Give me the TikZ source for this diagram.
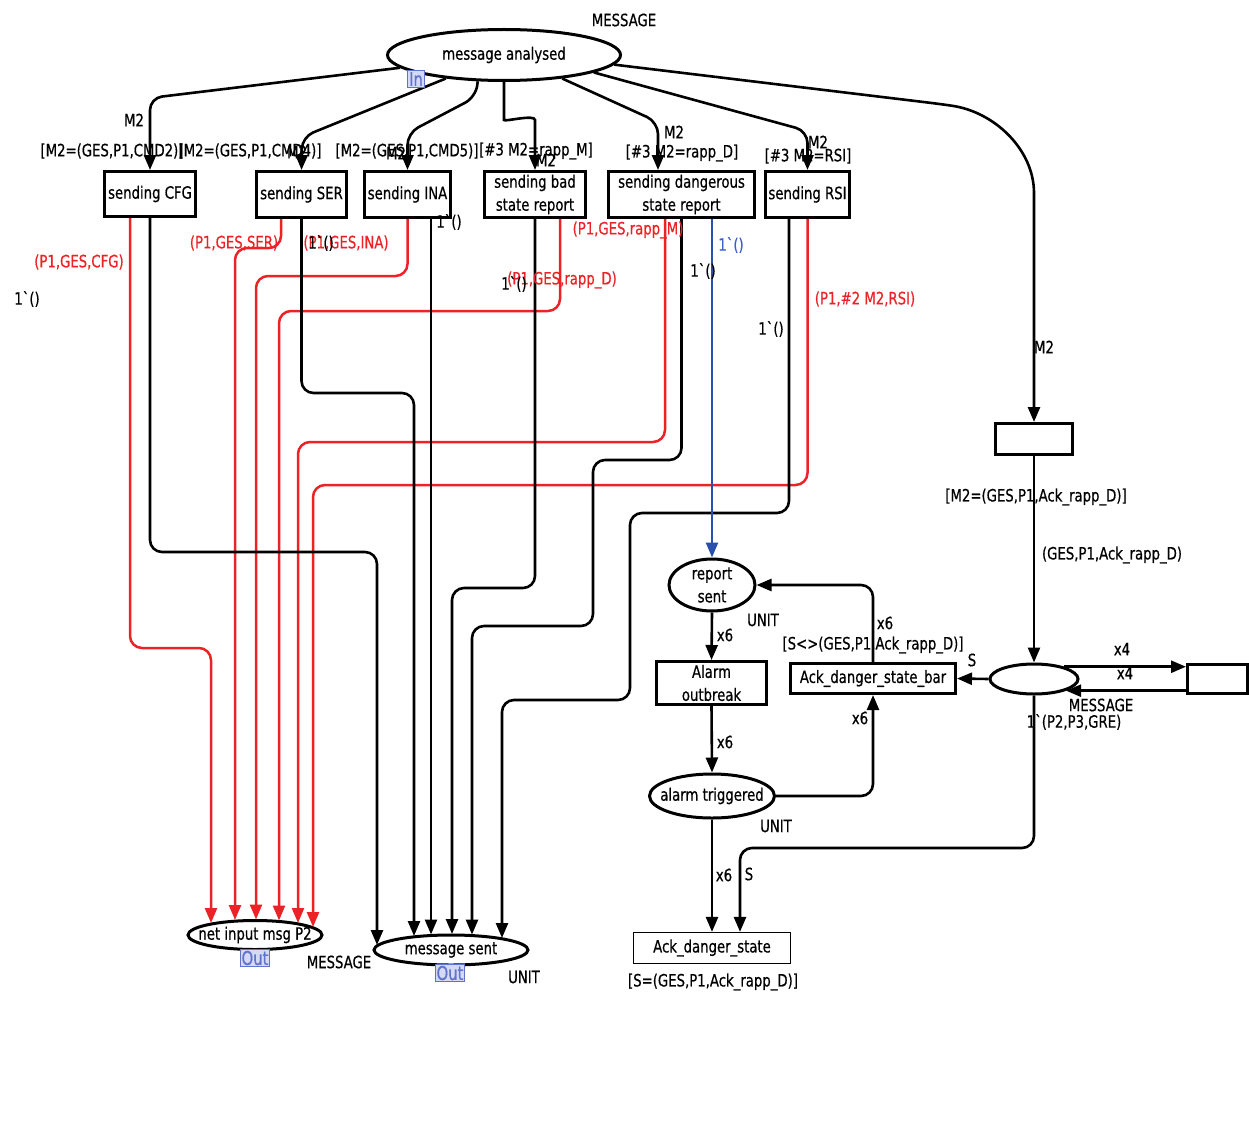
\documentclass[tikz,border=0pt]{standalone}
\usepackage{fontspec}
\newfontfamily\lab{DejaVu Sans}[FakeStretch=0.78,FakeBold=0.6]
\usetikzlibrary{shapes.geometric,arrows.meta,calc}
\definecolor{rd}{RGB}{236,34,38}
\definecolor{bl}{RGB}{40,80,172}
\definecolor{blt}{RGB}{60,95,205}
\definecolor{tagf}{RGB}{212,217,246}
\definecolor{tagb}{RGB}{95,115,205}
\begin{document}
\begin{tikzpicture}[x=1pt,y=-1pt,
  every node/.style={font=\lab\fontsize{17}{23}\selectfont, inner sep=0pt},
  place/.style={ellipse, draw, line width=3pt, align=center},
  trans/.style={rectangle, draw, line width=3pt, align=center},
  arc/.style={line width=2.6pt, -{Triangle[length=15pt,width=12pt]}, rounded corners=12pt},
  rarc/.style={arc, draw=rd, line width=2.5pt, -{Triangle[length=15pt,width=12pt,fill=rd]}},
  barc/.style={arc, draw=bl, line width=2.5pt, -{Triangle[length=15pt,width=12pt,fill=bl]}},
  lbl/.style={text=black},
  rlbl/.style={text=rd},
  blbl/.style={text=blt},
  tag/.style={draw=tagb, fill=tagf, text=tagb, line width=1pt, inner sep=1.5pt, font=\lab\fontsize{19}{20}\selectfont}
]
\useasboundingbox (0,0) rectangle (1249,1145);

% places (ellipses drawn empty, texts set on top)
\node[place, minimum width=233, minimum height=51] (ma) at (504,55) {};
\node (mat) at (ma.center) {message analysed};
\node[place, minimum width=86, minimum height=52] (rs) at (712,585) {};
\node[align=center] (rst) at (rs.center) {report\\sent};
\node[place, minimum width=125, minimum height=44] (at) at (712,796) {};
\node (att) at (at.center) {alarm triggered};
\node[place, minimum width=134, minimum height=29] (ni) at (255,935) {};
\node (nit) at (ni.center) {net input msg P2};
\node[place, minimum width=154, minimum height=30] (ms) at (451,950) {};
\node (mst) at (ms.center) {message sent};
\node[place, minimum width=88, minimum height=30] (rp) at (1034,679) {};

% transitions
\node[trans, minimum width=91, minimum height=45] (cfg) at (150,194) {sending CFG};
\node[trans, minimum width=90, minimum height=46] (ser) at (301.5,194.5) {sending SER};
\node[trans, minimum width=86, minimum height=46] (ina) at (407.5,194.5) {sending INA};
\node[trans, minimum width=101, minimum height=46] (bsr) at (535,194.5) {sending bad\\state report};
\node[trans, minimum width=146, minimum height=46] (dsr) at (681.5,194.5) {sending dangerous\\state report};
\node[trans, minimum width=84, minimum height=46] (rsi) at (807.5,194.5) {sending RSI};
\node[trans, minimum width=77, minimum height=31] (rr) at (1034,439) {};
\node[trans, minimum width=110, minimum height=43] (ao) at (711.5,683) {Alarm\\outbreak};
\node[trans, minimum width=165, minimum height=30] (adsb) at (873,678.5) {Ack\_danger\_state\_bar};
\node[trans, minimum width=60, minimum height=29] (fr) at (1217.5,679) {};
\node[draw, line width=1.2pt, minimum width=157, minimum height=31] (ads) at (712,948) {Ack\_danger\_state};

% arcs from message analysed
\draw[arc] (ma.187) -- (150,98) -- (cfg.north);
\draw[arc] (ma.202) -- (302,137) -- (ser.north);
\draw[arc] (ma.225) -- (476,97) -- (407.5,133) -- (ina.north);
\draw[arc] (ma.south) -- (504,108) .. controls (504,122) and (535,114) .. (535,132) -- (bsr.north);
\draw[arc] (ma.-22) -- (658,122) -- ($(dsr.north)+(-23.5,0)$);
\draw[arc] (ma.-11) -- (807.5,131) -- (rsi.north);
\draw[arc] (ma.-5) -- (940,104) .. controls (995,112) and (1034,150) .. (1034,205) -- (rr.north);

% red arcs to net input msg P2
\draw[rarc] ($(cfg.south)+(-20,0)$) -- (130,648) -- (211,648) -- ($(ni.center)+(-44,-12)$);
\draw[rarc] ($(ser.south)+(-20.5,0)$) -- (281,248) -- (235,248) -- ($(ni.center)+(-20,-15)$);
\draw[rarc] (ina.south) -- (407.5,276) -- (256,276) -- ($(ni.center)+(1,-15.5)$);
\draw[rarc] ($(bsr.south)+(25,0)$) -- (560,311) -- (279,311) -- ($(ni.center)+(24,-14.5)$);
\draw[rarc] ($(dsr.south)+(-16.5,0)$) -- (665,442) -- (298,442) -- ($(ni.center)+(43,-12)$);
\draw[rarc] (rsi.south) -- (807.5,485) -- (313,485) -- ($(ni.center)+(58,-8)$);

% black arcs to message sent
\draw[arc] (cfg.south) -- (150,552) -- (377,552) -- ($(ms.center)+(-74,-5)$);
\draw[arc] (ser.south) -- (301.5,393) -- (414,393) -- ($(ms.center)+(-37,-14)$);
\draw[arc] ($(ina.south)+(23.5,0)$) -- ($(ms.center)+(-20,-15.5)$);
\draw[arc] (bsr.south) -- (535,588) -- (452,588) -- ($(ms.center)+(1,-16)$);
\draw[arc] (dsr.south) -- (681.5,460) -- (593,460) -- (593,626) -- (472,626) -- ($(ms.center)+(21,-15.4)$);
\draw[arc] ($(rsi.south)+(-18.5,0)$) -- (789,513) -- (630,513) -- (630,700) -- (502,700) -- ($(ms.center)+(51,-12)$);

% blue arc
\draw[barc] (rs.north |- dsr.south) -- (rs.north);

% right part
\draw[arc] (rr.south) -- (rp.north);
\draw[arc] (rp.west) -- (adsb.east);
\draw[arc] (rp.22) -- (rp.22 -| fr.west);
\draw[arc] (fr.west |- rp.-20) -- (rp.-20);
\draw[arc] (rp.south) -- (1034,848) -- (740,848) -- ($(ads.north)+(28,0)$);
\draw[arc] (adsb.north) -- (adsb.north |- rs.east) -- (rs.east);
\draw[arc] (at.east) -- (at.east -| adsb.south) -- (adsb.south);
\draw[arc] (rs.south) -- (ao.north);
\draw[arc] (ao.south) -- (at.north);
\draw[arc] (at.south) -- (ads.north);

% tags
\node[tag] (tin) at (416,79) {In};
\node[tag] (tout1) at (255,958) {Out};
\node[tag] (tout2) at (450,973) {Out};

% labels
\node[lbl] (l1) at (624,20) {MESSAGE};
\node[lbl] (l2) at (134,120) {M2};
\node[lbl] (l3) at (112,151) {[M2=(GES,P1,CMD2)]};
\node[lbl] (l4) at (250,151) {[M2=(GES,P1,CMD4)]};
\node[lbl] (l5) at (297,152) {M2};
\node[lbl] (l6) at (407,151) {[M2=(GES,P1,CMD5)]};
\node[lbl] (l7) at (396,153) {M2};
\node[lbl] (l8) at (536,151) {[\#3 M2=rapp\_M]};
\node[lbl] (l9) at (546,160) {M2};
\node[lbl] (l10) at (674,132) {M2};
\node[lbl] (l11) at (682,153) {[\#3 M2=rapp\_D]};
\node[lbl] (l12) at (818,142) {M2};
\node[lbl] (l13) at (808,156) {[\#3 M2=RSI]};
\node[rlbl] (l14) at (79,262) {(P1,GES,CFG)};
\node[lbl] (l15) at (27,299) {1`()};
\node[rlbl] (l16) at (234,243) {(P1,GES,SER)};
\node[rlbl] (l17) at (346,243) {(P1,GES,INA)};
\node[lbl] (l18) at (321,243) {1`()};
\node[lbl] (l19) at (449,222) {1`()};
\node[rlbl] (l20) at (628,230) {(P1,GES,rapp\_M)};
\node[rlbl] (l21) at (562,280) {(P1,GES,rapp\_D)};
\node[lbl] (l22) at (514,284) {1`()};
\node[blbl] (l23) at (731,245) {1`()};
\node[lbl] (l24) at (703,271) {1`()};
\node[lbl] (l25) at (771,329) {1`()};
\node[rlbl] (l26) at (865,299) {(P1,\#2 M2,RSI)};
\node[lbl] (l27) at (1044,347) {M2};
\node[lbl] (l28) at (1036,497) {[M2=(GES,P1,Ack\_rapp\_D)]};
\node[lbl] (l29) at (1112,555) {(GES,P1,Ack\_rapp\_D)};
\node[lbl] (l30) at (1122,649) {x4};
\node[lbl] (l31) at (1125,673) {x4};
\node[lbl] (l32) at (972,660) {S};
\node[lbl] (l33) at (1101,705) {MESSAGE};
\node[lbl] (l34) at (1074,722) {1`(P2,P3,GRE)};
\node[lbl] (l35) at (763,620) {UNIT};
\node[lbl] (l36) at (725,635) {x6};
\node[lbl] (l37) at (885,623) {x6};
\node[lbl] (l38) at (873,645) {[S<>(GES,P1,Ack\_rapp\_D)]};
\node[lbl] (l39) at (860,718) {x6};
\node[lbl] (l40) at (725,742) {x6};
\node[lbl] (l41) at (776,826) {UNIT};
\node[lbl] (l42) at (724,875) {x6};
\node[lbl] (l43) at (749,874) {S};
\node[lbl] (l44) at (713,982) {[S=(GES,P1,Ack\_rapp\_D)]};
\node[lbl] (l45) at (339,962) {MESSAGE};
\node[lbl] (l46) at (524,977) {UNIT};
\end{tikzpicture}
\end{document}
